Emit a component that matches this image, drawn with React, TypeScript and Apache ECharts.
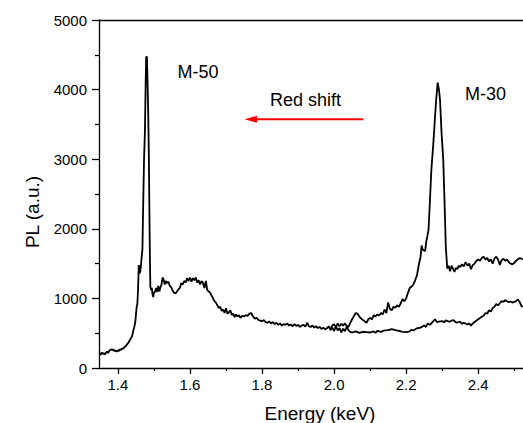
import React, { useEffect, useRef } from "react";
import * as echarts from "echarts";

const xMajorTicks = [1.4, 1.6, 1.8, 2.0, 2.2, 2.4];
const xMinorTicks = [1.5, 1.7, 1.9, 2.1, 2.3, 2.5];
const yMajorTicks = [0, 1000, 2000, 3000, 4000, 5000];
const yMinorTicks = [500, 1500, 2500, 3500, 4500];

// M-50 spectrum: [energy keV, PL a.u.]
const m50: [number, number][] = [
  [1.349, 210], [1.352, 190], [1.355, 225], [1.358, 200], [1.361, 215], [1.364, 195], [1.367, 220],
  [1.370, 235], [1.373, 215], [1.376, 250], [1.379, 260], [1.382, 270], [1.385, 255], [1.388, 265],
  [1.391, 240], [1.394, 250], [1.397, 235], [1.400, 255], [1.403, 245], [1.406, 270], [1.409, 260],
  [1.412, 285], [1.415, 275], [1.418, 300], [1.421, 310], [1.424, 330], [1.427, 350], [1.430, 370],
  [1.433, 400], [1.436, 430], [1.439, 450], [1.442, 520], [1.445, 580], [1.448, 650], [1.450, 760],
  [1.452, 880], [1.454, 920], [1.456, 1150], [1.458, 1480], [1.460, 1360], [1.462, 1380],
  [1.464, 1480], [1.466, 1600], [1.468, 1700], [1.470, 2300], [1.4725, 3000], [1.475, 3400],
  [1.477, 4100], [1.4785, 4470], [1.4805, 4470], [1.482, 4150], [1.484, 3700], [1.486, 3000],
  [1.4875, 2200], [1.489, 1500], [1.490, 1170], [1.492, 1120], [1.494, 1150], [1.496, 1060],
  [1.498, 1020], [1.500, 1080], [1.503, 1100], [1.506, 1150], [1.509, 1090], [1.512, 1180],
  [1.515, 1100], [1.518, 1160], [1.521, 1200], [1.524, 1300], [1.527, 1270], [1.530, 1200],
  [1.533, 1250], [1.536, 1220], [1.540, 1240], [1.544, 1180], [1.548, 1160], [1.552, 1110],
  [1.556, 1080], [1.560, 1070], [1.564, 1100], [1.568, 1130], [1.572, 1150], [1.576, 1220],
  [1.580, 1200], [1.584, 1250], [1.588, 1230], [1.592, 1290], [1.596, 1250], [1.600, 1300],
  [1.604, 1240], [1.608, 1290], [1.612, 1260], [1.616, 1300], [1.620, 1230], [1.624, 1260],
  [1.628, 1200], [1.632, 1250], [1.636, 1220], [1.640, 1150], [1.644, 1250], [1.648, 1120],
  [1.652, 1100], [1.656, 1080], [1.660, 1040], [1.664, 1000], [1.668, 960], [1.672, 940],
  [1.676, 900], [1.680, 860], [1.684, 880], [1.688, 820], [1.692, 840], [1.696, 790], [1.700, 860],
  [1.704, 780], [1.708, 800], [1.712, 830], [1.716, 760], [1.720, 780], [1.724, 730], [1.728, 770],
  [1.732, 740], [1.736, 760], [1.740, 720], [1.745, 750], [1.750, 740], [1.755, 760], [1.760, 750],
  [1.765, 780], [1.770, 790], [1.775, 740], [1.780, 710], [1.785, 720], [1.790, 690], [1.795, 680],
  [1.800, 670], [1.805, 690], [1.810, 660], [1.815, 650], [1.820, 670], [1.825, 640], [1.830, 660],
  [1.835, 630], [1.840, 650], [1.845, 620], [1.850, 640], [1.855, 610], [1.860, 630], [1.865, 620],
  [1.870, 640], [1.875, 610], [1.880, 625], [1.885, 600], [1.890, 630], [1.895, 605], [1.900, 620],
  [1.905, 590], [1.910, 610], [1.915, 620], [1.920, 595], [1.925, 650], [1.930, 600], [1.935, 590],
  [1.940, 610], [1.945, 580], [1.950, 600], [1.955, 575], [1.960, 590], [1.965, 560], [1.970, 580],
  [1.975, 555], [1.980, 570], [1.985, 600], [1.990, 545], [1.995, 580], [2.000, 530], [2.005, 600],
  [2.010, 540], [2.015, 575], [2.020, 510], [2.025, 565], [2.030, 530], [2.035, 590], [2.040, 545],
  [2.045, 520], [2.050, 510], [2.060, 525], [2.070, 505], [2.080, 520], [2.090, 515], [2.100, 510],
  [2.110, 525], [2.115, 505], [2.120, 535], [2.130, 520], [2.140, 540], [2.150, 545], [2.160, 560],
  [2.170, 545], [2.180, 535], [2.190, 520], [2.200, 515], [2.210, 525], [2.215, 550], [2.220, 540],
  [2.230, 570], [2.240, 580], [2.250, 610], [2.255, 590], [2.260, 640], [2.265, 620], [2.270, 640],
  [2.280, 700], [2.285, 660], [2.290, 665], [2.300, 675], [2.305, 655], [2.310, 685], [2.320, 665],
  [2.330, 690], [2.340, 650], [2.350, 665], [2.355, 635], [2.360, 650], [2.370, 625], [2.375, 640],
  [2.380, 610], [2.385, 640], [2.390, 660], [2.400, 700], [2.410, 735], [2.415, 750], [2.420, 790],
  [2.425, 780], [2.430, 830], [2.435, 810], [2.440, 860], [2.445, 880], [2.450, 920], [2.455, 900],
  [2.460, 930], [2.465, 960], [2.470, 950], [2.475, 975], [2.480, 960], [2.485, 945], [2.490, 955],
  [2.495, 940], [2.500, 950], [2.505, 960], [2.510, 985], [2.515, 950], [2.520, 890], [2.524, 880]
];

// M-30 spectrum: [energy keV, PL a.u.]
const m30: [number, number][] = [
  [1.990, 560], [1.995, 610], [2.000, 630], [2.005, 585], [2.010, 640], [2.015, 600], [2.020, 635],
  [2.025, 610], [2.030, 640], [2.035, 605], [2.040, 590], [2.045, 650], [2.050, 700], [2.055, 745],
  [2.060, 790], [2.065, 780], [2.070, 740], [2.075, 710], [2.080, 690], [2.085, 670], [2.090, 650],
  [2.095, 700], [2.100, 720], [2.105, 700], [2.110, 760], [2.115, 740], [2.120, 770], [2.125, 755],
  [2.130, 790], [2.135, 770], [2.140, 840], [2.145, 790], [2.150, 940], [2.155, 850], [2.160, 830],
  [2.165, 880], [2.170, 865], [2.175, 900], [2.180, 880], [2.185, 930], [2.190, 990], [2.195, 960],
  [2.200, 1000], [2.205, 1080], [2.210, 1150], [2.215, 1170], [2.220, 1200], [2.225, 1260],
  [2.230, 1330], [2.235, 1480], [2.240, 1600], [2.243, 1760], [2.246, 1700], [2.2526, 1680],
  [2.256, 1820], [2.259, 1900], [2.262, 1980], [2.266, 2400], [2.270, 2850], [2.2755, 3230],
  [2.280, 3600], [2.284, 3900], [2.2875, 4100], [2.291, 4000], [2.294, 3850], [2.298, 3400],
  [2.303, 2990], [2.307, 2300], [2.310, 1750], [2.314, 1430], [2.318, 1470], [2.322, 1390],
  [2.326, 1470], [2.330, 1430], [2.334, 1380], [2.338, 1440], [2.342, 1420], [2.346, 1470],
  [2.350, 1450], [2.355, 1490], [2.360, 1460], [2.365, 1520], [2.370, 1470], [2.375, 1500],
  [2.380, 1420], [2.385, 1480], [2.390, 1500], [2.395, 1540], [2.400, 1560], [2.405, 1540],
  [2.410, 1580], [2.415, 1600], [2.420, 1560], [2.425, 1580], [2.430, 1530], [2.435, 1560],
  [2.440, 1500], [2.445, 1570], [2.450, 1600], [2.455, 1560], [2.460, 1480], [2.465, 1550],
  [2.470, 1570], [2.475, 1540], [2.480, 1560], [2.485, 1520], [2.490, 1500], [2.495, 1490],
  [2.500, 1510], [2.505, 1540], [2.510, 1560], [2.515, 1580], [2.520, 1570], [2.524, 1560]
];

const X_MIN = 1.3475;
const X_MAX = 2.5243;
const Y_MIN = 0;
const Y_MAX = 5000;
const FONT = "'Liberation Sans', Arial, Helvetica, sans-serif";
const INK = "#000";

export default function App() {
  const ref = useRef<HTMLDivElement>(null);

  useEffect(() => {
    if (!ref.current) return;
    const chart = echarts.init(ref.current, null, { renderer: "svg" });
    const lineStyle = { color: INK, width: 1.3 };
    const baseX = {
      type: "value" as const,
      min: X_MIN,
      max: X_MAX,
      splitLine: { show: false },
    };
    const baseY = {
      type: "value" as const,
      min: Y_MIN,
      max: Y_MAX,
      position: "left" as const,
      splitLine: { show: false },
    };
    chart.setOption({
      animation: false,
      backgroundColor: "#fff",
      grid: { left: 99, right: -2, top: 20, bottom: 55, containLabel: false },
      xAxis: [
        {
          ...baseX,
          position: "bottom",
          axisLine: { show: true, onZero: false, lineStyle },
          axisTick: { show: true, inside: false, length: 6, customValues: xMajorTicks, lineStyle },
          axisLabel: {
            customValues: xMajorTicks,
            formatter: (v: number) => v.toFixed(1),
            fontSize: 15,
            fontFamily: FONT,
            color: INK,
            margin: 9,
          },
        },
        {
          ...baseX,
          position: "bottom",
          axisLine: { show: false, onZero: false },
          axisTick: { show: true, inside: false, length: 3, customValues: xMinorTicks, lineStyle },
          axisLabel: { show: false },
        },
        {
          ...baseX,
          position: "top",
          axisLine: { show: true, onZero: false, lineStyle },
          axisTick: { show: false },
          axisLabel: { show: false },
        },
      ],
      yAxis: [
        {
          ...baseY,
          axisLine: { show: true, onZero: false, lineStyle },
          axisTick: { show: true, inside: false, length: 7, customValues: yMajorTicks, lineStyle },
          axisLabel: {
            customValues: yMajorTicks,
            formatter: (v: number) => String(Math.round(v)),
            fontSize: 15,
            fontFamily: FONT,
            color: INK,
            margin: 12,
          },
        },
        {
          ...baseY,
          axisLine: { show: false, onZero: false },
          axisTick: { show: true, inside: false, length: 4, customValues: yMinorTicks, lineStyle },
          axisLabel: { show: false },
        },
      ],
      series: [
        {
          name: "M-50",
          type: "line",
          data: m50,
          showSymbol: false,
          symbol: "none",
          lineStyle: { color: INK, width: 1.8 },
          xAxisIndex: 0,
          yAxisIndex: 0,
          clip: true,
        },
        {
          name: "M-30",
          type: "line",
          data: m30,
          showSymbol: false,
          symbol: "none",
          lineStyle: { color: INK, width: 1.8 },
          xAxisIndex: 0,
          yAxisIndex: 0,
          clip: true,
        },
      ],
      graphic: [
        {
          type: "text",
          x: 32,
          y: 212,
          rotation: Math.PI / 2,
          style: {
            text: "PL (a.u.)",
            fontSize: 19,
            fontFamily: FONT,
            fill: INK,
            align: "center",
            verticalAlign: "middle",
          },
        },
        {
          type: "text",
          x: 320,
          y: 413.5,
          style: {
            text: "Energy (keV)",
            fontSize: 19,
            fontFamily: FONT,
            fill: INK,
            align: "center",
            verticalAlign: "middle",
          },
        },
        {
          type: "text",
          x: 177.5,
          y: 71.5,
          style: { text: "M-50", fontSize: 18, fontFamily: FONT, fill: INK, align: "left", verticalAlign: "middle" },
        },
        {
          type: "text",
          x: 465,
          y: 93.5,
          style: { text: "M-30", fontSize: 18, fontFamily: FONT, fill: INK, align: "left", verticalAlign: "middle" },
        },
        {
          type: "text",
          x: 270,
          y: 100,
          style: { text: "Red shift", fontSize: 18, fontFamily: FONT, fill: INK, align: "left", verticalAlign: "middle" },
        },
        {
          type: "line",
          shape: { x1: 254, y1: 119.3, x2: 363.3, y2: 119.3 },
          style: { stroke: "#f00", lineWidth: 2 },
        },
        {
          type: "polygon",
          shape: { points: [[244.5, 119.3], [257, 115.8], [257, 122.8]] },
          style: { fill: "#f00" },
        },
      ],
    });
    return () => chart.dispose();
  }, []);

  return (
    <div
      ref={ref}
      style={{ position: "fixed", left: 0, top: 0, width: 523, height: 423, background: "#fff" }}
    />
  );
}
